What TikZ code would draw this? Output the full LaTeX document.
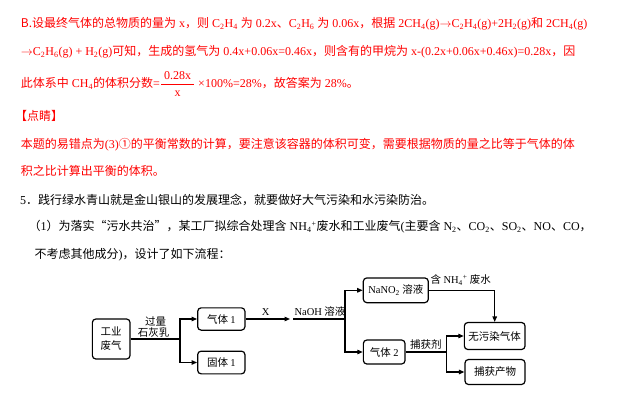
\documentclass[tikz,border=0pt]{standalone}
\usepackage{fontspec}
\setmainfont{Liberation Serif}
\newfontfamily\hanzi{Noto Sans CJK SC}
\usetikzlibrary{arrows.meta}
\newcommand{\subidx}[1]{\textsubscript{#1}}
\newcommand{\supidx}[1]{\textsuperscript{#1}}
\tikzset{
  para/.style={anchor=base west, inner sep=0pt, font=\fontsize{12}{14}\selectfont},
  box/.style={draw, rounded corners=3.5pt, line width=1.2pt, inner sep=0pt, align=center, font=\hanzi\fontsize{10.5}{14}\selectfont},
  lbl/.style={inner sep=0pt, font=\hanzi\fontsize{10.5}{14}\selectfont},
  flow/.style={line width=1.2pt},
  arr/.style={flow, -{Triangle[length=5.5pt,width=4.5pt]}}
}
\begin{document}
\begin{tikzpicture}[x={(1pt,0)}, y={(0,-1pt)}]
\useasboundingbox (0,0) rectangle (632,402);
\draw(20.7,27.8) node[para, red] (l1) {{\hanzi B.设最终气体的总物质的量为} x{\hanzi ，则} C\subidx{2}H\subidx{4} {\hanzi 为} 0.2x{\hanzi 、}C\subidx{2}H\subidx{6} {\hanzi 为} 0.06x{\hanzi ，根据} 2CH\subidx{4}(g)$\rightarrow$C\subidx{2}H\subidx{4}(g)+2H\subidx{2}(g){\hanzi 和} 2CH\subidx{4}(g)};
\draw(20.7,55.2) node[para, red] (l2) {$\rightarrow$C\subidx{2}H\subidx{6}(g) + H\subidx{2}(g){\hanzi 可知，生成的氢气为} 0.4x+0.06x=0.46x{\hanzi ，则含有的甲烷为} x-(0.2x+0.06x+0.46x)=0.28x{\hanzi ，因}};
\draw(20.7,87.8) node[para, red] (l3) {{\hanzi 此体系中} CH\subidx{4}{\hanzi 的体积分数}=$\displaystyle{\hbox{\kern3pt 0.28x\kern3pt}\above 0.8pt\hbox{x}}$ ×100\%=28\%{\hanzi ，故答案为} 28\%{\hanzi 。}};
\draw(15,120.5) node[para, red] (l4) {\hanzi 【点睛】};
\draw(20.7,148.5) node[para, red] (l5) {{\hanzi 本题的易错点为}(3){\hanzi ①的平衡常数的计算，要注意该容器的体积可变，需要根据物质的量之比等于气体的体}};
\draw(20.7,175.2) node[para, red] (l6) {\hanzi 积之比计算出平衡的体积。};
\draw(20,204.5) node[para] (l7) {5{\hanzi ．践行绿水青山就是金山银山的发展理念，就要做好大气污染和水污染防治。}};
\draw(28.5,230.5) node[para] (l8) {{\hanzi （}1{\hanzi ）为落实“污水共治”，某工厂拟综合处理含} NH\subidx{4}\supidx{+}{\hanzi 废水和工业废气}({\hanzi 主要含} N\subidx{2}{\hanzi 、}CO\subidx{2}{\hanzi 、}SO\subidx{2}{\hanzi 、}NO{\hanzi 、}CO{\hanzi ，}};
\draw(34.5,258.5) node[para] (l9) {{\hanzi 不考虑其他成分}){\hanzi ，设计了如下流程：}};

\node[box, minimum width=37.7pt, minimum height=40pt] (waste) at (111.2,339) {工业\\废气};
\node[box, minimum width=47.3pt, minimum height=22.3pt] (gas1) at (221.3,319) {气体 {\rmfamily 1}};
\node[box, minimum width=47.3pt, minimum height=22.7pt] (solid1) at (221.3,362.5) {固体 {\rmfamily 1}};
\node[box, minimum width=65pt, minimum height=24.7pt] (nitrite) at (395.8,290.3) {{\rmfamily NaNO\subidx{2}} 溶液};
\node[box, minimum width=41.7pt, minimum height=24pt] (gas2) at (384.2,352) {气体 {\rmfamily 2}};
\node[box, minimum width=60.7pt, minimum height=27pt] (clean) at (494.7,336) {无污染气体};
\node[box, minimum width=60pt, minimum height=25pt] (product) at (495,372) {捕获产物};

\coordinate (split1) at (180,339);
\coordinate (xend) at (290,319);
\coordinate (naohstart) at (293.3,319);
\coordinate (split2) at (345,319);
\coordinate (split3) at (446.7,352);

\draw[flow] (waste.east) -- (split1);
\draw[arr] (split1) |- (gas1.west);
\draw[arr] (split1) |- (solid1.west);
\draw[arr] (gas1.east) -- (xend);
\draw[flow] (naohstart) -- (split2);
\draw[arr] (split2) |- (nitrite.west);
\draw[arr] (split2) |- (gas2.west);
\draw[arr] (nitrite.east) -| (clean.north);
\draw[flow] (gas2.east) -- (split3);
\draw[arr] (split3) |- (clean.west);
\draw[arr] (split3) |- (product.west);

\node[lbl] (excess) at (155.5,321) {过量};
\node[lbl] (lime) at (153.5,332.3) {石灰乳};
\node[lbl] (xlbl) at (265.7,312) {\rmfamily X};
\node[lbl] (naoh) at (320,311.5) {{\rmfamily NaOH} 溶液};
\node[lbl] (ammonium) at (460.8,280.3) {含 {\rmfamily NH\subidx{4}\supidx{+}} 废水};
\node[lbl] (capture) at (425.8,344.5) {捕获剂};
\end{tikzpicture}
\end{document}
